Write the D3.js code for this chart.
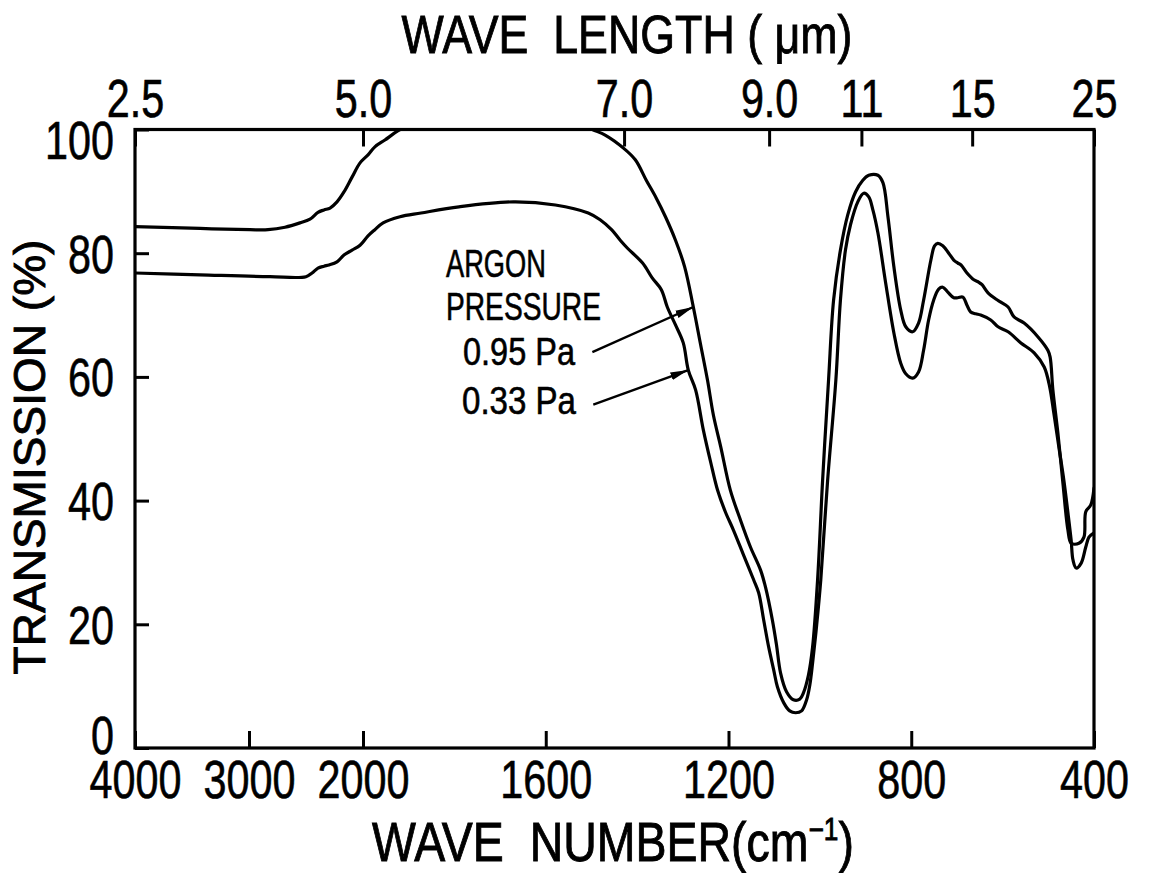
<!DOCTYPE html>
<html><head><meta charset="utf-8">
<script src="https://cdn.jsdelivr.net/npm/d3@7"></script>
<style>
html,body{margin:0;padding:0;background:#fff;}
svg{display:block;}
text{font-family:"Liberation Sans", Arial, sans-serif; fill:#000;}
</style></head><body>
<svg id="chart" width="1151" height="873"></svg>
<script>
// ---------------- data ----------------
const wavenumberTicks = [4000, 3000, 2000, 1600, 1200, 800, 400];
const wavelengthTicks = [2.5, 5.0, 7.0, 9.0, 11, 15, 25];
const wavelengthLabels = ["2.5", "5.0", "7.0", "9.0", "11", "15", "25"];
const transmissionTicks = [0, 20, 40, 60, 80, 100];
const seriesLabels = ["0.95 Pa", "0.33 Pa"];
const annotationTitle = ["ARGON", "PRESSURE"];

// Argon pressure 0.95 Pa : [wave number cm-1, transmission %]
const argon095 = [
 [4000,84.3],[3430,84.0],[2991,83.8],[2833,83.8],[2684,84.2],[2553,84.9],[2465,85.5],
 [2395,86.6],[2342,87.0],[2289,87.3],[2228,88.3],[2167,89.9],[2096,92.3],[2026,94.6],
 [1989,95.9],[1974,97.2],[1952,98.3],[1923,99.8],[1875,101.5],[1800,103],[1700,104],
 [1600,103.5],[1540,101.5],[1498,100],[1470,99.1],[1430,97.0],[1404,95.1],[1380,91.8],
 [1358,88.9],[1338,85.9],[1316,82.1],[1296,77.8],[1277,71.3],[1261,65.2],[1246,59.5],
 [1233,53.8],[1217,48.7],[1196,41.7],[1174,36.9],[1152,32.5],[1130,28.8],[1119,26.0],
 [1104,20.7],[1095,16.7],[1086,12.1],[1073,9.1],[1058,7.8],[1044,7.9],[1036,8.9],
 [1025,11.8],[1016,16.3],[1005,27.2],[994,43.3],[981,59.5],[970,72.4],[955,80.5],
 [939,86.2],[922,89.9],[906,91.8],[893,92.6],[873,92.6],[862,91.4],[851,85.9],
 [838,77.8],[823,70.8],[812,68.1],[797,67.3],[784,68.7],[773,72.4],[757,78.9],
 [749,81.2],[742,81.6],[731,81.2],[718,80.0],[707,78.9],[698,78.4],[691,78.1],
 [678,76.8],[663,75.7],[652,75.3],[645,74.9],[632,73.6],[615,72.6],[604,72.1],
 [588,71.3],[575,69.7],[553,68.7],[523,66.5],[501,64.3],[496,63.2],[490,57.9],
 [479,50.9],[468,42.8],[457,35.2],[450,33.1],[433,33.1],[422,34.1],[418,38.2],
 [407,39.3],[400,42.0]
];

// Argon pressure 0.33 Pa
const argon033 = [
 [4000,76.8],[3430,76.5],[2816,76.2],[2500,76.2],[2447,76.8],[2395,77.6],[2342,77.9],
 [2298,78.1],[2228,78.6],[2167,79.7],[2096,80.5],[2026,81.3],[1989,82.8],[1974,83.8],
 [1956,84.9],[1919,85.9],[1873,86.5],[1790,87.5],[1671,88.3],[1579,87.8],[1507,86.5],
 [1481,85.4],[1456,83.8],[1437,82.1],[1421,80.8],[1388,78.4],[1367,76.0],[1347,74.1],
 [1334,71.3],[1316,68.4],[1299,65.5],[1288,61.1],[1272,57.9],[1255,51.4],[1239,46.2],
 [1224,41.7],[1207,38.2],[1189,35.2],[1167,31.2],[1145,27.2],[1134,25.1],[1123,20.7],
 [1112,16.3],[1101,12.6],[1093,9.9],[1079,7.3],[1066,6.0],[1053,5.7],[1040,6.0],
 [1029,7.8],[1022,10.2],[1016,13.7],[1007,19.9],[998,27.2],[983,43.3],[965,59.5],
 [955,72.4],[944,80.5],[933,84.6],[917,88.3],[904,89.7],[893,89.1],[884,87.0],
 [873,83.3],[856,75.2],[838,67.1],[823,62.2],[812,60.5],[797,59.8],[784,60.8],
 [773,64.3],[762,69.2],[751,72.4],[740,74.2],[731,74.5],[720,73.7],[707,72.8],
 [698,72.8],[687,72.9],[678,71.6],[670,70.5],[659,70.2],[648,70.0],[626,69.2],
 [610,68.1],[588,67.3],[560,65.5],[531,63.9],[509,61.6],[497,58.4],[488,54.2],
 [477,48.7],[466,43.3],[457,38.0],[450,33.6],[446,30.4],[439,29.1],[428,29.9],
 [418,32.5],[411,34.1],[400,34.8]
];

// arrows: [from (wn, T), to (wn, T)]
const arrow095 = [[1498, 64.0], [1277, 71.3]];
const arrow033 = [[1496, 55.5], [1288, 61.1]];

(function () {
// ---------------- layout ----------------
const svg = d3.select("#chart");
const mLeft = 135, mRight = 1094, mTop = 129.5, mBottom = 748;

const x = d3.scaleLinear().domain([4000, 2000, 400]).range([mLeft, 363, mRight]);
const y = d3.scaleLinear().domain([0, 100]).range([mBottom, mTop]);

const defs = svg.append("defs");
defs.append("clipPath").attr("id", "plotclip").append("rect")
  .attr("x", mLeft).attr("y", mTop).attr("width", mRight - mLeft).attr("height", mBottom - mTop);
defs.append("marker").attr("id", "arrowhead")
  .attr("markerUnits", "userSpaceOnUse")
  .attr("markerWidth", 20).attr("markerHeight", 10)
  .attr("refX", 18).attr("refY", 5).attr("orient", "auto")
  .append("path").attr("d", "M0,1 L18,5 L0,9 Z").attr("fill", "#000");

const condense = 0.78;
const tickFont = 53;

function styleAxis(g) {
  g.select(".domain").remove();
  g.selectAll(".tick line").attr("stroke", "#000").attr("stroke-width", 3);
  g.selectAll(".tick text")
    .attr("font-size", tickFont)
    .attr("font-family", '"Liberation Sans", Arial, sans-serif')
    .attr("fill", "#000")
    .attr("stroke", "#000").attr("stroke-width", 0.6)
    .attr("transform", `scale(${condense},1)`);
}

// bottom axis (wave number)
const gBottom = svg.append("g").attr("transform", `translate(0,${mBottom})`)
  .call(d3.axisBottom(x).tickValues(wavenumberTicks).tickFormat(d3.format("d"))
    .tickSize(-17).tickSizeOuter(0).tickPadding(12));
styleAxis(gBottom);

// top axis (wave length)
const gTop = svg.append("g").attr("transform", `translate(0,${mTop})`)
  .call(d3.axisTop(x).tickValues(wavelengthTicks.map(l => 1e4 / l))
    .tickFormat((d, i) => wavelengthLabels[i])
    .tickSize(-17).tickSizeOuter(0).tickPadding(13));
styleAxis(gTop);

// left axis (transmission)
const leftPad = 21;
const gLeft = svg.append("g").attr("transform", `translate(${mLeft},0)`)
  .call(d3.axisLeft(y).tickValues(transmissionTicks).tickSize(-14).tickSizeOuter(0).tickPadding(leftPad));
styleAxis(gLeft);
gLeft.selectAll(".tick text").attr("x", -leftPad / condense)
  .attr("dy", d => d === 100 ? "0.55em" : d === 0 ? "0.1em" : "0.36em");

// frame
svg.append("rect").attr("x", mLeft).attr("y", mTop)
  .attr("width", mRight - mLeft).attr("height", mBottom - mTop)
  .attr("fill", "none").attr("stroke", "#000").attr("stroke-width", 3.2);

// curves
const line = d3.line().x(d => x(d[0])).y(d => y(d[1])).curve(d3.curveCatmullRom.alpha(0.5));
const gCurves = svg.append("g").attr("clip-path", "url(#plotclip)");
[argon095, argon033].forEach(s => {
  gCurves.append("path").datum(s).attr("d", line)
    .attr("fill", "none").attr("stroke", "#000").attr("stroke-width", 3.2)
    .attr("stroke-linejoin", "round").attr("stroke-linecap", "round");
});

// arrows
[arrow095, arrow033].forEach(a => {
  svg.append("line")
    .attr("x1", x(a[0][0])).attr("y1", y(a[0][1]))
    .attr("x2", x(a[1][0])).attr("y2", y(a[1][1]))
    .attr("stroke", "#000").attr("stroke-width", 2.4)
    .attr("marker-end", "url(#arrowhead)");
});

// helper: text fitted to a target width
function fittedText(parent, build, opts) {
  const g = parent.append("g");
  const t = g.append("text")
    .attr("font-size", opts.size)
    .attr("text-anchor", opts.anchor || "start")
    .attr("stroke", "#000").attr("stroke-width", opts.stroke || 0.6)
    .style("white-space", "pre");
  build(t);
  const w = t.node().getComputedTextLength();
  const s = opts.width ? opts.width / w : 1;
  g.attr("transform", `translate(${opts.x},${opts.y}) rotate(${opts.rotate || 0}) scale(${s},1)`);
  return g;
}

// annotation
fittedText(svg, t => t.text(annotationTitle[0]), {x: 446, y: 277, size: 38, width: 100});
fittedText(svg, t => t.text(annotationTitle[1]), {x: 446, y: 320, size: 38, width: 155});
fittedText(svg, t => t.text(seriesLabels[0]), {x: 463, y: 365, size: 38, width: 112});
fittedText(svg, t => t.text(seriesLabels[1]), {x: 462, y: 414, size: 38, width: 114});

// axis titles
fittedText(svg, t => t.text("WAVE  LENGTH ( μm)"),
  {x: 627, y: 53, size: 54, width: 451, anchor: "middle", stroke: 0.9});

fittedText(svg, t => {
  t.append("tspan").text("WAVE  NUMBER(cm");
  t.append("tspan").attr("font-size", 31).attr("dy", -21).text("−1");
  t.append("tspan").attr("dy", 21).text(")");
}, {x: 613, y: 861, size: 55, width: 482, anchor: "middle", stroke: 0.9});

fittedText(svg, t => t.text("TRANSMISSION (%)"),
  {x: 45, y: 457, size: 45, width: 435, anchor: "middle", rotate: -90, stroke: 0.9});
})();
</script>
</body></html>
